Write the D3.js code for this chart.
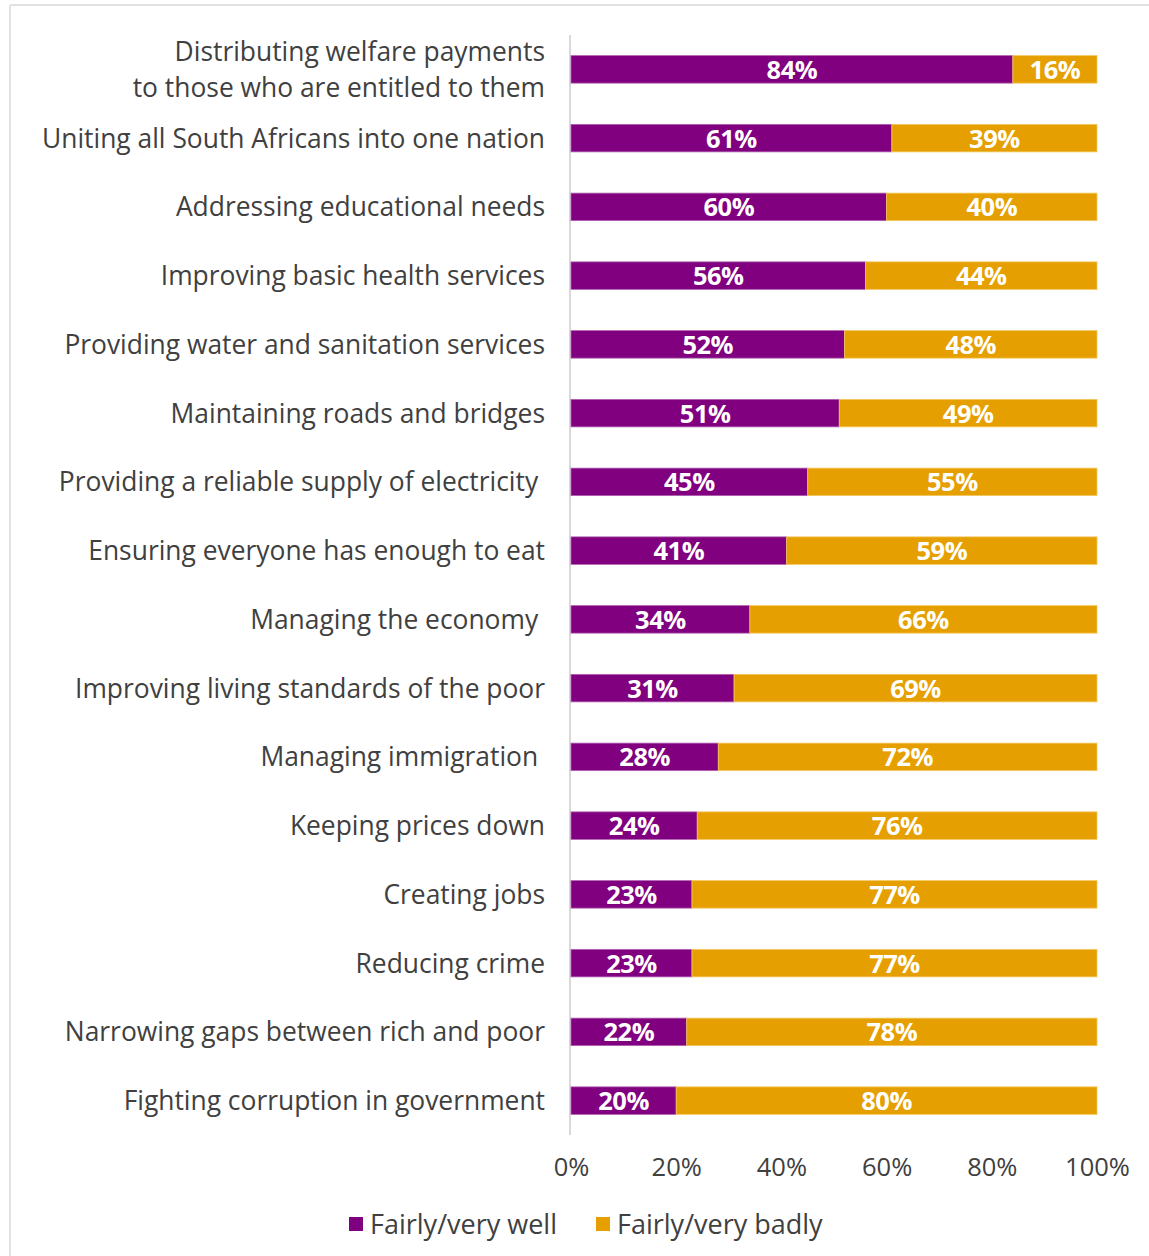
<!DOCTYPE html>
<html>
<head>
<meta charset="utf-8">
<script src="https://cdn.jsdelivr.net/npm/d3@7"></script>
<style>
  html, body { margin: 0; padding: 0; background: #fff; }
  svg { display: block; }
  text { font-family: "Open Sans", "DejaVu Sans", sans-serif; }
</style>
</head>
<body>
<svg id="chart" width="1149" height="1256"></svg>
<script>
// Government performance ratings, share of respondents (%)
const categories = [
  "Distributing welfare payments\nto those who are entitled to them",
  "Uniting all South Africans into one nation",
  "Addressing educational needs",
  "Improving basic health services",
  "Providing water and sanitation services",
  "Maintaining roads and bridges",
  "Providing a reliable supply of electricity\u00a0",
  "Ensuring everyone has enough to eat",
  "Managing the economy\u00a0",
  "Improving living standards of the poor",
  "Managing immigration\u00a0",
  "Keeping prices down",
  "Creating jobs",
  "Reducing crime",
  "Narrowing gaps between rich and poor",
  "Fighting corruption in government"
];
const fairlyVeryWell  = [84, 61, 60, 56, 52, 51, 45, 41, 34, 31, 28, 24, 23, 23, 22, 20];
const fairlyVeryBadly = [16, 39, 40, 44, 48, 49, 55, 59, 66, 69, 72, 76, 77, 77, 78, 80];
const seriesNames = ["Fairly/very well", "Fairly/very badly"];
const xTicks = [0, 20, 40, 60, 80, 100];

const colors = { well: "#800080", badly: "#E69F00" };
const textColor = "#404040";

const svg = d3.select("#chart");

// Outer frame (top and left edges visible)
svg.append("line").attr("x1", 10).attr("x2", 1149).attr("y1", 5).attr("y2", 5)
  .attr("stroke", "#e2e2e2").attr("stroke-width", 2);
svg.append("line").attr("x1", 10).attr("x2", 10).attr("y1", 5).attr("y2", 1256)
  .attr("stroke", "#e2e2e2").attr("stroke-width", 2);

const x = d3.scaleLinear().domain([0, 100]).range([571, 1097]);
const y = d3.scaleBand().domain(d3.range(categories.length)).range([35, 1135]).paddingInner(0.6).paddingOuter(0.3);

const rows = categories.map((c, i) => ({
  label: c, well: fairlyVeryWell[i], badly: fairlyVeryBadly[i], i
}));

// Category axis line
svg.append("line").attr("x1", 570).attr("x2", 570).attr("y1", 35).attr("y2", 1135)
  .attr("stroke", "#d9d9d9").attr("stroke-width", 2);

const stack = d3.stack().keys(["well", "badly"])(rows);

const g = svg.append("g");
stack.forEach(layer => {
  const key = layer.key;
  g.selectAll(null).data(layer).join("rect")
    .attr("x", d => x(d[0]))
    .attr("y", d => y(d.data.i))
    .attr("width", d => x(d[1]) - x(d[0]))
    .attr("height", y.bandwidth())
    .attr("fill", colors[key])
    .attr("stroke", key === "well" ? "#b060b0" : "#f3c860")
    .attr("stroke-width", 0.8);

  g.selectAll(null).data(layer).join("text")
    .attr("x", d => (x(d[0]) + x(d[1])) / 2)
    .attr("y", d => y(d.data.i) + y.bandwidth() / 2)
    .attr("dy", "0.37em")
    .attr("text-anchor", "middle")
    .attr("fill", "#fff")
    .attr("font-weight", "bold")
    .attr("font-size", 25.5)
    .attr("letter-spacing", -0.5)
    .text(d => d.data[key] + "%");
});

// Category labels (multi-line labels split on "\n")
const labels = svg.append("g");
rows.forEach(r => {
  const lines = r.label.split("\n");
  const cy = y(r.i) + y.bandwidth() / 2;
  lines.forEach((ln, k) => {
    labels.append("text")
      .attr("x", 545)
      .attr("y", cy + (k - (lines.length - 1) / 2) * 36)
      .attr("dy", "0.36em")
      .attr("text-anchor", "end")
      .attr("fill", textColor)
      .attr("font-size", 26.4)
      .text(ln);
  });
});

// X axis tick labels
const xAxis = d3.axisBottom(x).tickValues(xTicks).tickFormat(d => d + "%").tickSize(0).tickPadding(0);
const ax = svg.append("g").attr("transform", "translate(0,1158)").call(xAxis);
ax.select(".domain").remove();
ax.selectAll("text").attr("font-size", 25.5).attr("fill", textColor)
  .attr("font-family", "'Open Sans', 'DejaVu Sans', sans-serif");

// Legend
const legend = svg.append("g");
const legendItems = [
  { name: seriesNames[0], color: colors.well, x: 349 },
  { name: seriesNames[1], color: colors.badly, x: 596 }
];
legendItems.forEach(it => {
  legend.append("rect").attr("x", it.x).attr("y", 1217).attr("width", 14).attr("height", 14).attr("fill", it.color);
  legend.append("text").attr("x", it.x + 21).attr("y", 1224).attr("dy", "0.36em")
    .attr("font-size", 27).attr("fill", textColor).text(it.name);
});
</script>
</body>
</html>
